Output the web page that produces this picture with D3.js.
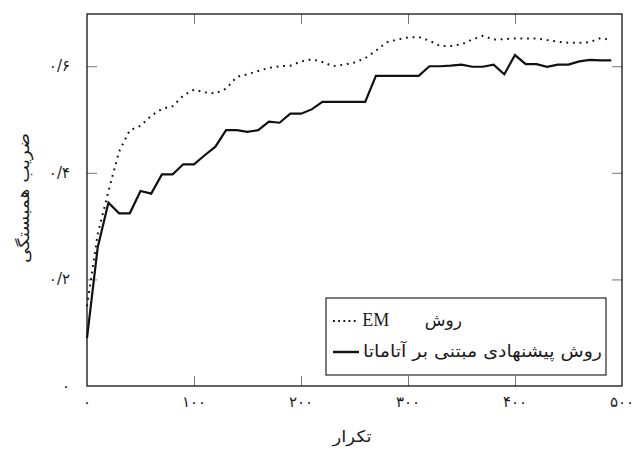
<!DOCTYPE html>
<html>
<head>
<meta charset="utf-8">
<script src="https://cdn.jsdelivr.net/npm/d3@7"></script>
<style>
  html, body { margin: 0; padding: 0; background: #fff; }
  svg { display: block; }
  .fa { font-family: "DejaVu Sans", "Noto Sans", sans-serif; fill: #1a1a1a; }
</style>
</head>
<body>
<svg id="chart" width="638" height="450"></svg>
<script>
// Iterations (x axis)
const iterations = d3.range(0, 500, 10);

// Correlation coefficient per iteration — EM method
const emValues = [
  0.150, 0.285, 0.365, 0.440, 0.480, 0.488, 0.507, 0.520, 0.525, 0.545,
  0.556, 0.551, 0.549, 0.558, 0.580, 0.585, 0.591, 0.597, 0.600, 0.601,
  0.609, 0.613, 0.608, 0.600, 0.603, 0.607, 0.615, 0.629, 0.645, 0.650,
  0.654, 0.655, 0.648, 0.638, 0.638, 0.641, 0.650, 0.657, 0.650, 0.651,
  0.652, 0.652, 0.652, 0.649, 0.646, 0.644, 0.644, 0.645, 0.653, 0.649
];

// Correlation coefficient per iteration — proposed automata-based method
const automataValues = [
  0.090, 0.260, 0.344, 0.324, 0.324, 0.366, 0.361, 0.397, 0.397, 0.416,
  0.416, 0.433, 0.449, 0.480, 0.480, 0.477, 0.480, 0.496, 0.494, 0.511,
  0.511, 0.519, 0.533, 0.533, 0.533, 0.533, 0.533, 0.582, 0.582, 0.582,
  0.582, 0.582, 0.600, 0.600, 0.601, 0.603, 0.599, 0.599, 0.603, 0.585,
  0.621, 0.604, 0.604, 0.599, 0.603, 0.603, 0.609, 0.612, 0.611, 0.611
];

const xTicks = [0, 100, 200, 300, 400, 500];
const yTicks = [0, 0.2, 0.4, 0.6];

const seriesNames = ["روش EM", "روش پیشنهادی مبتنی بر آتاماتا"];
const xTitle = "تکرار";
const yTitle = "ضریب همبستگی";

// Persian digits with "/" as decimal separator
const faDigits = "۰۱۲۳۴۵۶۷۸۹";
const toFa = s => String(s).replace(/[0-9]/g, d => faDigits[+d]).replace(".", "/");

const svg = d3.select("#chart");
const plotLeft = 87, plotRight = 622, plotTop = 14, plotBottom = 386;

const x = d3.scaleLinear().domain([0, 500]).range([plotLeft, plotRight]);
const y = d3.scaleLinear().domain([0, 0.698]).range([plotBottom, plotTop]);

// Inward ticks on all four sides
const tickLen = 10;
const tickColor = "#777";
const g = svg.append("g");
const innerX = xTicks.filter(v => v > 0 && v < 500);
const innerY = yTicks.filter(v => v > 0);

g.append("g").attr("transform", `translate(0,${plotBottom})`)
  .call(d3.axisTop(x).tickValues(innerX).tickSize(tickLen).tickFormat(""))
  .call(a => a.select(".domain").remove())
  .call(a => a.selectAll("line").attr("stroke", tickColor));
g.append("g").attr("transform", `translate(0,${plotTop})`)
  .call(d3.axisBottom(x).tickValues(innerX).tickSize(tickLen).tickFormat(""))
  .call(a => a.select(".domain").remove())
  .call(a => a.selectAll("line").attr("stroke", tickColor));
g.append("g").attr("transform", `translate(${plotLeft},0)`)
  .call(d3.axisRight(y).tickValues(innerY).tickSize(tickLen).tickFormat(""))
  .call(a => a.select(".domain").remove())
  .call(a => a.selectAll("line").attr("stroke", tickColor));
g.append("g").attr("transform", `translate(${plotRight},0)`)
  .call(d3.axisLeft(y).tickValues(innerY).tickSize(tickLen).tickFormat(""))
  .call(a => a.select(".domain").remove())
  .call(a => a.selectAll("line").attr("stroke", tickColor));

// Tick labels
svg.append("g").selectAll("text").data(xTicks).join("text")
  .attr("class", "fa")
  .attr("x", d => x(d)).attr("y", 407)
  .attr("text-anchor", "middle")
  .attr("font-size", 15)
  .attr("letter-spacing", 4)
  .text(d => toFa(d));

svg.append("g").selectAll("text").data(yTicks).join("text")
  .attr("class", "fa")
  .attr("x", 70).attr("y", d => y(d) + 5)
  .attr("text-anchor", "end")
  .attr("font-size", 15)
  .text(d => toFa(d));

// Series lines
const line = d3.line().x((d, i) => x(iterations[i])).y(d => y(d));

svg.append("path").datum(emValues)
  .attr("d", line)
  .attr("fill", "none")
  .attr("stroke", "#111")
  .attr("stroke-width", 2)
  .attr("stroke-dasharray", "1.8 4.8");

svg.append("path").datum(automataValues)
  .attr("d", line)
  .attr("fill", "none")
  .attr("stroke", "#111")
  .attr("stroke-width", 2.2)
  .attr("stroke-linejoin", "miter");

// Plot frame
svg.append("rect")
  .attr("x", plotLeft).attr("y", plotTop)
  .attr("width", plotRight - plotLeft).attr("height", plotBottom - plotTop)
  .attr("fill", "none").attr("stroke", "#111").attr("stroke-width", 1.3);

// Legend
const lg = svg.append("g");
lg.append("rect")
  .attr("x", 326).attr("y", 298).attr("width", 280).attr("height", 77)
  .attr("fill", "#fff").attr("stroke", "#111").attr("stroke-width", 1.1);

const legendRows = [
  { name: seriesNames[0], dash: "1.8 3.4", width: 2, yPos: 321 },
  { name: seriesNames[1], dash: null, width: 2.4, yPos: 352 }
];
legendRows.forEach((r, i) => {
  lg.append("line")
    .attr("x1", 333).attr("x2", 359)
    .attr("y1", r.yPos).attr("y2", r.yPos)
    .attr("stroke", "#111").attr("stroke-width", r.width)
    .attr("stroke-dasharray", r.dash);
  const t = lg.append("text")
    .attr("class", "fa")
    .attr("y", r.yPos + 5)
    .attr("direction", "rtl")
    .attr("font-size", 17);
  if (i === 0) {
    // Latin part set in a serif face, with a wide gap before it
    const [fa, en] = r.name.split(" ");
    t.attr("x", 462).attr("text-anchor", "start");
    t.append("tspan").text(fa);
    t.append("tspan").attr("font-family", "Liberation Serif, serif")
      .attr("font-size", 18).attr("word-spacing", 31).text(" " + en);
  } else {
    t.attr("x", 363).attr("text-anchor", "end")
      .attr("textLength", 239).attr("lengthAdjust", "spacingAndGlyphs")
      .text(r.name);
  }
});

// Axis titles
svg.append("text")
  .attr("class", "fa")
  .attr("x", 352).attr("y", 442)
  .attr("text-anchor", "middle")
  .attr("font-size", 16)
  .attr("textLength", 39).attr("lengthAdjust", "spacingAndGlyphs")
  .text(xTitle);

svg.append("text")
  .attr("class", "fa")
  .attr("transform", `translate(29,${(plotTop + plotBottom) / 2 - 2}) rotate(-90)`)
  .attr("text-anchor", "middle")
  .attr("font-size", 16)
  .attr("textLength", 130).attr("lengthAdjust", "spacingAndGlyphs")
  .text(yTitle);
</script>
</body>
</html>
